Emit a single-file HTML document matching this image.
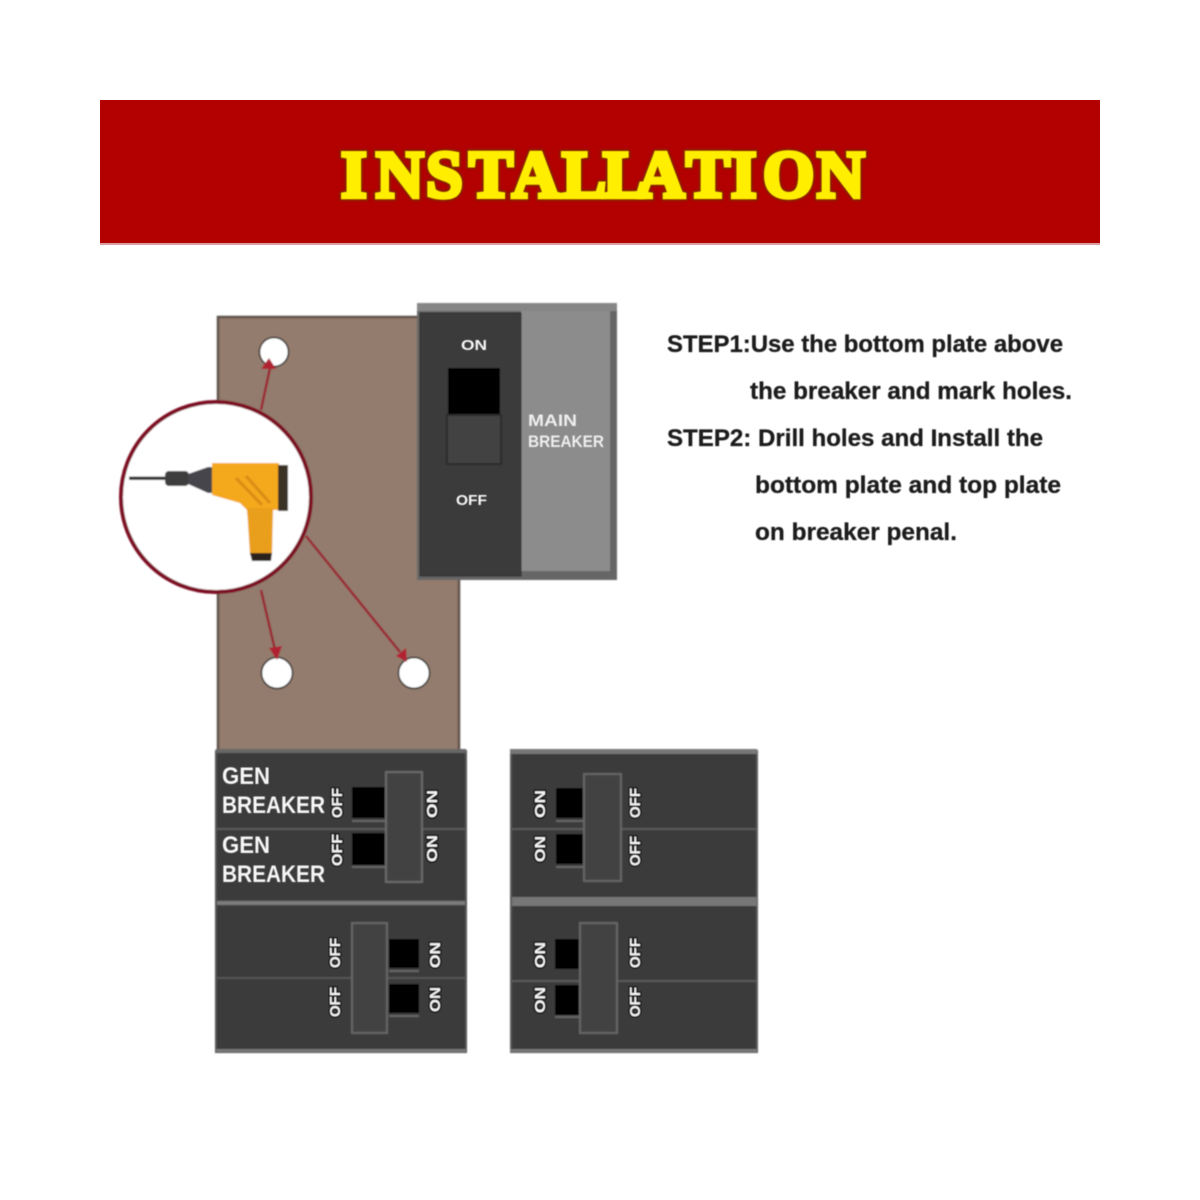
<!DOCTYPE html>
<html><head><meta charset="utf-8"><style>
html,body{margin:0;padding:0;background:#fff}
svg{display:block}
text{font-family:"Liberation Sans",sans-serif}
</style></head><body>
<svg width="1200" height="1200" viewBox="0 0 1200 1200" xmlns="http://www.w3.org/2000/svg">
<defs>
<filter id="b" x="-5%" y="-5%" width="110%" height="110%"><feGaussianBlur stdDeviation="0.7"/></filter>
<filter id="t" x="-5%" y="-20%" width="110%" height="140%"><feGaussianBlur stdDeviation="0.5"/></filter>
<filter id="h" x="-5%" y="-30%" width="110%" height="160%"><feGaussianBlur stdDeviation="1.2"/></filter>
</defs>
<rect x="100" y="100" width="1000" height="145" fill="#b30000"/>
<rect x="100" y="243" width="1000" height="2" fill="#d8a0a0"/>
<g transform="scale(1.1,1.12)" font-size="60" font-weight="bold">
<text x="310 341.8 387.3 426.4 465.5 510.9 548.2 579.1 623.6 664.5 693.6 742.7" y="176" fill="none" stroke="#7a2a00" stroke-width="6.5" style="font-family:'Liberation Serif',serif" filter="url(#h)">INSTALLATION</text>
<text x="310 341.8 387.3 426.4 465.5 510.9 548.2 579.1 623.6 664.5 693.6 742.7" y="176" fill="#ffee00" stroke="#ffee00" stroke-width="4" style="font-family:'Liberation Serif',serif" filter="url(#t)">INSTALLATION</text>
</g>

<g filter="url(#b)">
<!-- plate -->
<rect x="218" y="317" width="241" height="434" fill="#937b6d" stroke="#5f534c" stroke-width="2.5"/>
<circle cx="274" cy="352" r="14.5" fill="#fff" stroke="#222" stroke-width="1.5"/>
<circle cx="277" cy="673" r="15.5" fill="#fff" stroke="#222" stroke-width="1.5"/>
<circle cx="414" cy="673" r="15.5" fill="#fff" stroke="#222" stroke-width="1.5"/>
<!-- main breaker -->
<rect x="417" y="303" width="200" height="277" fill="#666"/>
<rect x="417" y="303" width="200" height="8" fill="#868686"/>
<rect x="521" y="311" width="89" height="260" fill="#8c8c8c"/>
<rect x="420" y="313" width="101" height="263" fill="#3b3b3b" stroke="#222" stroke-width="1"/>
<rect x="448" y="368" width="52" height="46" fill="#000"/>
<rect x="447" y="415" width="54" height="49" fill="#424242" stroke="#2a2a2a" stroke-width="2"/>
<!-- arrows -->
<g stroke="#9a2430" stroke-width="2.5" fill="none">
<line x1="261" y1="410" x2="270" y2="368"/>
<line x1="261" y1="590" x2="275" y2="650"/>
<line x1="306" y1="536" x2="400" y2="652"/>
</g>
<path d="M269,358L261,369L276,369z" fill="#b02030"/>
<path d="M277,660L269,648L282,646z" fill="#b02030"/>
<path d="M407,662L396,656L406,648z" fill="#b02030"/>
<!-- drill circle -->
<circle cx="216" cy="497" r="95" fill="#fff" stroke="#7d1022" stroke-width="4"/>
<!-- drill -->
<rect x="129" y="476.5" width="36" height="3.5" fill="#333"/>
<rect x="165" y="471" width="24" height="15" rx="4" fill="#3e3e3e"/>
<path d="M188,474L208,467L212,467L212,493L208,493L188,484z" fill="#45454c"/>
<path d="M212,463H279V510H273V514H247V510L240,503L212,495z" fill="#f4a81c"/>
<rect x="278" y="465" width="10" height="46" fill="#3a3026"/>
<path d="M247,508H273L272,555H250z" fill="#ea9f1a"/>
<path d="M250,553H272L271,561H252z" fill="#2c241a"/>
<path d="M236,478L262,505M246,476L270,503" stroke="#d98d12" stroke-width="3" fill="none"/>

<!-- left lower panel -->
<rect x="216" y="751" width="250" height="301" fill="#3b3b3b" stroke="#555" stroke-width="2"/>
<rect x="216" y="749" width="250" height="4" fill="#666"/>
<rect x="217" y="901" width="248" height="4" fill="#7c7c7c"/>
<rect x="217" y="828" width="248" height="2" fill="#5c5c5c"/>
<rect x="217" y="977" width="248" height="2" fill="#555"/>
<rect x="216" y="1049" width="250" height="3" fill="#777"/>
<rect x="352" y="787" width="33" height="31" fill="#000"/>
<rect x="352" y="820" width="33" height="2" fill="#666"/>
<rect x="352" y="833" width="33" height="32" fill="#000"/>
<rect x="352" y="866" width="33" height="2" fill="#666"/>
<rect x="386" y="772" width="36" height="110" fill="#424242" stroke="#6a6a6a" stroke-width="2"/>
<rect x="389" y="939" width="30" height="29" fill="#000"/>
<rect x="389" y="970" width="30" height="2" fill="#666"/>
<rect x="389" y="984" width="30" height="29" fill="#000"/>
<rect x="389" y="1015" width="30" height="2" fill="#666"/>
<rect x="352" y="923" width="35" height="110" fill="#424242" stroke="#666" stroke-width="2"/>
<!-- right lower panel -->
<rect x="511" y="751" width="246" height="301" fill="#3b3b3b" stroke="#5a5a5a" stroke-width="2"/>
<rect x="510" y="749" width="247" height="5" fill="#777"/>
<rect x="512" y="897" width="245" height="9" fill="#777"/>
<rect x="512" y="828" width="245" height="2" fill="#5c5c5c"/>
<rect x="512" y="980" width="245" height="2" fill="#5c5c5c"/>
<rect x="510" y="1049" width="247" height="3" fill="#777"/>
<rect x="556" y="788" width="27" height="30" fill="#000"/>
<rect x="556" y="820" width="27" height="2" fill="#666"/>
<rect x="556" y="834" width="27" height="30" fill="#000"/>
<rect x="556" y="866" width="27" height="2" fill="#666"/>
<rect x="584" y="774" width="37" height="107" fill="#424242" stroke="#666" stroke-width="2"/>
<rect x="555" y="939" width="25" height="30" fill="#000"/>
<rect x="555" y="985" width="25" height="30" fill="#000"/>
<rect x="555" y="1016" width="25" height="2" fill="#666"/>
<rect x="580" y="923" width="37" height="110" fill="#424242" stroke="#666" stroke-width="2"/>
</g>

<g filter="url(#t)" fill="#f6f6f6" font-weight="bold">
<text x="461" y="350" font-size="15" textLength="26" lengthAdjust="spacingAndGlyphs">ON</text>
<text x="456" y="505" font-size="15" textLength="31" lengthAdjust="spacingAndGlyphs">OFF</text>
<text x="528" y="426" font-size="17" fill="#eee" textLength="49" lengthAdjust="spacingAndGlyphs">MAIN</text>
<text x="528" y="447" font-size="17" fill="#eee" textLength="76" lengthAdjust="spacingAndGlyphs">BREAKER</text>
<text x="222" y="784" font-size="24" textLength="48" lengthAdjust="spacingAndGlyphs">GEN</text>
<text x="222" y="813" font-size="24" textLength="103" lengthAdjust="spacingAndGlyphs">BREAKER</text>
<text x="222" y="853" font-size="24" textLength="48" lengthAdjust="spacingAndGlyphs">GEN</text>
<text x="222" y="882" font-size="24" textLength="103" lengthAdjust="spacingAndGlyphs">BREAKER</text>
<g font-size="15" stroke="#111" stroke-width="2.5" paint-order="stroke">
<text transform="translate(342,818) rotate(-90)" textLength="30" lengthAdjust="spacingAndGlyphs">OFF</text>
<text transform="translate(342,866) rotate(-90)" textLength="32" lengthAdjust="spacingAndGlyphs">OFF</text>
<text transform="translate(437,818) rotate(-90)" textLength="28" lengthAdjust="spacingAndGlyphs">ON</text>
<text transform="translate(437,862) rotate(-90)" textLength="27" lengthAdjust="spacingAndGlyphs">ON</text>
<text transform="translate(340,968) rotate(-90)" textLength="30" lengthAdjust="spacingAndGlyphs">OFF</text>
<text transform="translate(340,1017) rotate(-90)" textLength="30" lengthAdjust="spacingAndGlyphs">OFF</text>
<text transform="translate(440,968) rotate(-90)" textLength="26" lengthAdjust="spacingAndGlyphs">ON</text>
<text transform="translate(440,1012) rotate(-90)" textLength="25" lengthAdjust="spacingAndGlyphs">ON</text>
<text transform="translate(545,818) rotate(-90)" textLength="28" lengthAdjust="spacingAndGlyphs">ON</text>
<text transform="translate(545,862) rotate(-90)" textLength="26" lengthAdjust="spacingAndGlyphs">ON</text>
<text transform="translate(545,968) rotate(-90)" textLength="26" lengthAdjust="spacingAndGlyphs">ON</text>
<text transform="translate(545,1013) rotate(-90)" textLength="26" lengthAdjust="spacingAndGlyphs">ON</text>
<text transform="translate(640,818) rotate(-90)" textLength="30" lengthAdjust="spacingAndGlyphs">OFF</text>
<text transform="translate(640,866) rotate(-90)" textLength="30" lengthAdjust="spacingAndGlyphs">OFF</text>
<text transform="translate(640,968) rotate(-90)" textLength="30" lengthAdjust="spacingAndGlyphs">OFF</text>
<text transform="translate(640,1017) rotate(-90)" textLength="30" lengthAdjust="spacingAndGlyphs">OFF</text>
</g>
</g>

<g filter="url(#t)" fill="#1c1c1c" stroke="#1c1c1c" stroke-width="0.3" font-size="24" font-weight="bold">
<text x="667" y="352" textLength="396" lengthAdjust="spacingAndGlyphs">STEP1:Use the bottom plate above</text>
<text x="750" y="399" textLength="322" lengthAdjust="spacingAndGlyphs">the breaker and mark holes.</text>
<text x="667" y="446" textLength="376" lengthAdjust="spacingAndGlyphs">STEP2: Drill holes and Install the</text>
<text x="755" y="493" textLength="306" lengthAdjust="spacingAndGlyphs">bottom plate and top plate</text>
<text x="755" y="540" textLength="202" lengthAdjust="spacingAndGlyphs">on breaker penal.</text>
</g>
</svg>
</body></html>
